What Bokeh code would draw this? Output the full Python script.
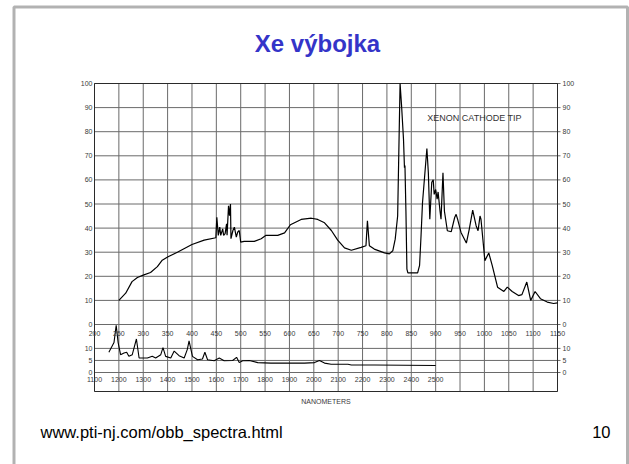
from bokeh.plotting import figure
from bokeh.models import Range1d, Label, BoxAnnotation
from bokeh.core.properties import value
from bokeh.embed import file_html
from bokeh.resources import INLINE

# ---------------- data ----------------
# visible / near-IR spectrum, 200-1150 nm, relative intensity (%)
vis_nm = [250, 264, 277, 288, 300, 315, 329, 339, 350, 370, 400, 425, 449,
          451, 454, 457, 459, 463, 465, 468, 471, 472, 475, 477, 479, 480, 484, 487, 491, 494, 497, 500,
          507, 528, 542, 552, 576, 590, 602, 624, 645, 658, 672, 686, 699, 713, 727, 747, 757, 760, 764,
          774, 795, 805, 812, 817, 822, 827, 830, 834, 836, 837, 839, 841, 843, 863, 867, 870, 873,
          882, 885, 888, 892, 895, 897, 900, 903, 905, 909, 911, 915, 918, 924, 932, 939, 942, 945,
          952, 963, 969, 976, 983, 987, 991, 993, 1001, 1009, 1016, 1027, 1040, 1047, 1057, 1070,
          1077, 1087, 1095, 1104, 1115, 1129, 1142, 1150]
vis_val = [10, 13, 17.8, 19.5, 20.5, 21.6, 24, 26.7, 28, 30, 33.2, 35, 36,
           44.5, 37, 40.4, 37, 39.7, 37, 37.7, 41.8, 37, 49.3, 45.2, 50, 35.6, 39, 40.4, 36.3, 38.4, 39, 34.2,
           34.5, 34.5, 35.6, 37, 37, 38, 41.4, 43.6, 44.1, 43.6, 42.2, 39, 35, 31.8, 30.8, 32, 32.7, 43, 32.7,
           31.3, 29.7, 29.3, 30.6, 35.4, 45, 100, 91, 77, 65, 66, 47, 23, 21.4, 21.4, 24.5, 36.8, 50.5,
           73, 63, 43.7, 59, 60, 54, 56, 52, 55, 47, 43.7, 63, 47, 38.9, 38.5, 44.4, 45.7, 43.7,
           38.2, 33.8, 39.6, 47.5, 41, 38.9, 45, 43.7, 26.5, 29.7, 24.5, 15.5, 13.7, 15.5, 13.7, 12,
           12.4, 17.6, 10, 13.7, 10.7, 9.3, 8.7, 9]

# infrared strip, 1100-2500 nm
nir_nm = [1159, 1180, 1189, 1197, 1207, 1221, 1232, 1241, 1255, 1272, 1283, 1317, 1337, 1351, 1372,
          1381, 1392, 1413, 1427, 1447, 1468, 1481, 1488, 1502, 1523, 1543, 1553, 1564, 1591, 1612,
          1632, 1667, 1683, 1694, 1708, 1735, 1770, 1824, 1962, 2003, 2023, 2044, 2071, 2140, 2154,
          2250, 2500]
nir_val = [8.4, 12.4, 19.6, 12.4, 7.4, 8.1, 8.4, 6.7, 7.4, 13.9, 6, 6, 6.7, 6, 7.4,
           10.3, 6.7, 6, 8.9, 7, 6, 9.6, 13.1, 6.7, 5.3, 5.6, 8.4, 5.3, 4.9, 6,
           4.9, 5, 6.3, 4.1, 4.9, 5, 4.1, 3.9, 3.9, 4.1, 5, 3.9, 3.4, 3.4, 3.1,
           3.1, 2.9]

vis_y_ticks = list(range(0, 101, 10))
nir_y_ticks = [0, 5, 10]
vis_x_ticks = list(range(200, 1151, 50))
nir_x_ticks = list(range(1100, 2501, 100))

TITLE = "Xe výbojka"
FOOTER = "www.pti-nj.com/obb_spectra.html"
PAGE_NO = "10"
CURVE_LABEL = "XENON CATHODE TIP"
X_LABEL = "NANOMETERS"

# ---------------- layout (page pixels) ----------------
W, H = 629, 464
CH_L, CH_R = 94, 557      # chart left / right edge
CH_T, CH_0 = 83, 324      # chart top (100 %) / zero line
CH_B = 391                # bottom edge of the IR strip
NIR_0 = 372               # zero line of the IR strip
TICK = 3                  # right-hand tick length, px

XS = (vis_x_ticks[-1] - vis_x_ticks[0]) / (CH_R - CH_L)
YS = (vis_y_ticks[-1] - vis_y_ticks[0]) / (CH_0 - CH_T)
NIR_XF = (nir_x_ticks[1] - nir_x_ticks[0]) / (vis_x_ticks[1] - vis_x_ticks[0])


def dx(px):
    return vis_x_ticks[0] + (px - CH_L) * XS


def dy(py):
    return (CH_0 - py) * YS


def nx(px):
    return nir_x_ticks[0] + (px - CH_L) * XS * NIR_XF


def ny(py):
    return (NIR_0 - py) * YS


FONT = "Liberation Sans"
SMALL = "7px"
GRID_C = "#6a6a6a"
TXT_C = "#3a3a3a"

p = figure(width=W, height=H, output_backend="svg", toolbar_location=None,
           x_range=Range1d(dx(0), dx(W)), y_range=Range1d(dy(H), dy(0)),
           x_axis_type=None, y_axis_type=None, title_location=None,
           min_border=0, min_border_left=0, min_border_right=0,
           min_border_top=0, min_border_bottom=0)
p.extra_x_ranges = {"nir": Range1d(nx(0), nx(W))}
p.extra_y_ranges = {"nir": Range1d(ny(H), ny(0))}
p.outline_line_color = None
p.background_fill_color = "white"
p.border_fill_color = "white"

x_lo, x_hi = vis_x_ticks[0], vis_x_ticks[-1]
y_top = vis_y_ticks[-1]
y_bot = dy(CH_B)
x_tick_end = dx(CH_R + TICK)

# grid of the chart
p.segment(x0=vis_x_ticks, y0=y_bot, x1=vis_x_ticks, y1=y_top, line_color=GRID_C, line_width=1)
p.segment(x0=x_lo, x1=x_tick_end, y0=vis_y_ticks, y1=vis_y_ticks, line_color=GRID_C, line_width=1)
p.segment(x0=x_lo, x1=x_tick_end, y0=nir_y_ticks, y1=nir_y_ticks, y_range_name="nir",
          line_color=GRID_C, line_width=1)
p.quad(left=x_lo, right=x_hi, top=y_top, bottom=y_bot, fill_color=None,
       line_color="#2a2a2a", line_width=1)

# curves
p.line(vis_nm, vis_val, line_color="black", line_width=1.2)
p.line(nir_nm, nir_val, x_range_name="nir", y_range_name="nir", line_color="black", line_width=1.1)

txt = dict(text_font=value(FONT), text_font_size=value(SMALL), text_color=TXT_C,
           text_baseline="middle")

# y tick labels
p.text(x=x_lo, y=vis_y_ticks, text=[str(v) for v in vis_y_ticks], x_offset=-2,
       text_align="right", **txt)
p.text(x=x_hi, y=vis_y_ticks, text=[str(v) for v in vis_y_ticks], x_offset=TICK + 2,
       text_align="left", **txt)
p.text(x=x_lo, y=nir_y_ticks, text=[str(v) for v in nir_y_ticks], x_offset=-2, y_range_name="nir",
       text_align="right", **txt)
p.text(x=x_hi, y=nir_y_ticks, text=[str(v) for v in nir_y_ticks], x_offset=TICK + 2,
       y_range_name="nir", text_align="left", **txt)

# x tick labels (inside the chart)
p.text(x=vis_x_ticks, y=dy(333), text=[str(v) for v in vis_x_ticks], text_align="center", **txt)
p.text(x=nir_x_ticks, y=ny(379), text=[str(v) for v in nir_x_ticks], x_range_name="nir",
       y_range_name="nir", text_align="center", **txt)

p.add_layout(Label(x=(x_lo + x_hi) / 2, y=dy(401), text=X_LABEL, text_align="center",
                   text_baseline="middle", text_font=FONT, text_font_size=SMALL, text_color=TXT_C))
p.add_layout(Label(x=dx(474), y=dy(117), text=CURVE_LABEL, text_align="center",
                   text_baseline="middle", text_font=FONT, text_font_size="9px",
                   text_color="#333333"))

# slide texts
p.add_layout(Label(x=dx(317), y=dy(43), text=TITLE, text_align="center", text_baseline="middle",
                   text_font=FONT, text_font_size="24px", text_font_style="bold",
                   text_color="#3434C8"))
p.add_layout(Label(x=dx(40), y=dy(431), text=FOOTER, text_align="left", text_baseline="middle",
                   text_font=FONT, text_font_size="16.5px", text_color="black"))
p.add_layout(Label(x=dx(610), y=dy(431), text=PAGE_NO, text_align="right", text_baseline="middle",
                   text_font=FONT, text_font_size="16.5px", text_color="black"))

# slide frame
p.add_layout(BoxAnnotation(left=dx(13.5), right=dx(627), top=dy(6.5), bottom=dy(H + 20),
                           fill_alpha=0, line_color="black", line_width=3))

open("out.html", "w").write(file_html(p, INLINE))
